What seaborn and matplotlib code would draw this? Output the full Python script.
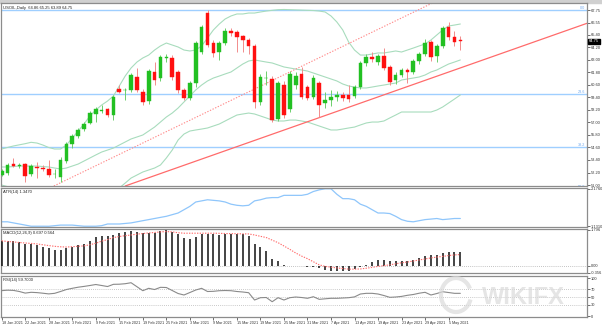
import numpy as np
import pandas as pd
import matplotlib
matplotlib.use("Agg")
import matplotlib.pyplot as plt
import matplotlib.transforms as mtransforms
from matplotlib.patches import Rectangle, Arc
import seaborn as sns

sns.set_theme(style="white")
plt.rcParams["font.family"] = ["Liberation Sans", "DejaVu Sans"]

# ---------------------------------------------------------------- data
symbol = "USOIL,Daily"
dates = pd.bdate_range("2021-01-18", "2021-05-07").drop(pd.Timestamp("2021-04-02"))

open_ = [51.96, 52.15, 53.01, 52.87, 53.01, 52.06, 52.73, 52.63, 52.54, 52.02,
         51.77, 53.30, 54.93, 55.69, 56.36, 56.94, 57.80, 58.10, 58.28, 57.70,
         60.19, 60.05, 60.10, 61.34, 59.90, 59.04, 61.82, 61.24, 63.20, 63.16,
         61.82, 60.10, 59.33, 60.76, 63.73, 67.46, 64.59, 63.73, 64.59, 65.74,
         65.64, 65.26, 64.88, 64.31, 58.95, 61.20, 61.15, 57.32, 60.57, 58.28,
         60.57, 61.63, 60.38, 59.42, 60.76, 58.85, 59.14, 59.42, 59.62, 59.62,
         59.52, 60.38, 62.68, 63.25, 62.77, 63.35, 62.30, 61.05, 61.53, 62.01,
         61.82, 62.87, 63.54, 64.69, 63.35, 64.31, 66.12, 65.17, 64.86]
high = [52.55, 53.10, 53.59, 53.10, 53.15, 53.00, 53.20, 52.90, 53.40, 52.50,
        53.70, 55.10, 55.90, 56.45, 57.00, 58.10, 58.50, 58.70, 58.40, 59.60,
        60.57, 60.30, 61.70, 62.20, 60.20, 62.10, 62.77, 63.40, 63.54, 63.40,
        62.00, 60.30, 61.00, 64.80, 66.30, 67.75, 64.90, 64.80, 66.00, 66.03,
        65.80, 65.40, 65.10, 64.50, 61.60, 61.90, 61.40, 61.00, 61.00, 61.90,
        61.80, 62.30, 60.60, 61.50, 61.00, 59.90, 60.10, 60.00, 59.90, 60.57,
        60.60, 62.90, 63.50, 63.73, 63.55, 64.11, 62.50, 61.80, 62.20, 62.20,
        63.10, 63.70, 65.00, 64.90, 64.50, 66.20, 66.60, 65.70, 65.25]
low = [51.85, 52.00, 52.70, 52.65, 51.29, 51.90, 51.67, 52.30, 51.80, 51.70,
       51.29, 53.10, 54.55, 55.50, 56.20, 56.80, 57.03, 57.90, 57.55, 57.22,
       59.80, 59.14, 59.90, 59.90, 58.70, 58.80, 60.57, 61.00, 62.77, 61.10,
       59.80, 59.14, 59.10, 60.40, 63.50, 64.20, 63.30, 62.97, 64.40, 65.30,
       63.73, 63.70, 63.54, 58.37, 58.70, 60.60, 57.00, 57.10, 57.40, 58.00,
       60.20, 59.20, 59.10, 59.20, 57.51, 58.40, 58.60, 59.00, 59.00, 58.90,
       59.30, 60.20, 62.40, 62.80, 62.50, 62.00, 60.60, 60.70, 61.30, 60.76,
       61.60, 62.60, 63.35, 62.87, 62.77, 64.10, 64.90, 64.30, 63.89]
close = [52.34, 52.92, 52.82, 52.92, 51.86, 52.82, 52.63, 52.54, 51.96, 52.06,
         53.40, 54.93, 55.69, 56.27, 56.84, 57.90, 58.28, 58.14, 57.70, 59.42,
         59.90, 60.10, 61.53, 60.10, 58.95, 61.91, 61.05, 63.25, 63.30, 61.34,
         60.10, 59.33, 60.76, 64.59, 66.12, 64.40, 63.64, 64.59, 65.74, 65.55,
         65.17, 64.88, 64.31, 58.95, 61.34, 61.25, 57.22, 60.76, 57.70, 61.63,
         61.43, 59.42, 59.33, 61.24, 58.66, 59.14, 59.42, 59.62, 59.33, 59.23,
         60.38, 62.68, 63.25, 63.06, 63.35, 62.20, 60.86, 61.53, 62.01, 61.82,
         62.87, 63.54, 64.59, 63.25, 64.31, 66.03, 65.17, 64.69, 64.75]

bb_upper = [54.45, 54.60, 54.74, 54.85, 54.96, 55.09, 55.02, 54.83, 54.59, 54.45,
            54.45, 54.83, 55.50, 56.17, 56.84, 57.61, 58.18, 58.66, 59.04, 59.52,
            60.48, 61.43, 62.20, 62.77, 63.16, 63.44, 63.92, 64.31, 64.59, 64.40,
            64.21, 63.92, 63.83, 63.92, 64.31, 65.07, 65.84, 66.41, 66.89, 67.18,
            67.37, 67.37, 67.46, 67.46, 67.56, 67.65, 67.72, 67.78, 67.80, 67.78,
            67.76, 67.74, 67.72, 67.70, 67.65, 67.56, 67.18, 66.60, 65.84, 64.69,
            63.92, 63.44, 63.44, 63.54, 63.64, 63.64, 63.73, 63.83, 63.73, 63.92,
            64.11, 64.31, 64.50, 64.88, 65.36, 65.84, 66.22, 66.31, 66.41]
bb_mid = [52.73, 52.73, 52.77, 52.82, 52.82, 52.82, 52.82, 52.77, 52.73, 52.63,
          52.54, 52.63, 52.82, 53.01, 53.30, 53.59, 53.88, 54.16, 54.35, 54.54,
          54.83, 55.12, 55.41, 55.60, 55.79, 56.17, 56.55, 57.03, 57.51, 57.89,
          58.37, 58.95, 59.52, 60.10, 60.57, 60.96, 61.24, 61.43, 61.63, 61.82,
          62.20, 62.58, 62.87, 62.97, 62.87, 62.77, 62.68, 62.49, 62.30, 62.20,
          62.10, 62.01, 61.91, 61.72, 61.53, 61.34, 61.15, 60.96, 60.67, 60.48,
          60.38, 60.29, 60.29, 60.38, 60.48, 60.57, 60.67, 60.76, 61.05, 61.15,
          61.24, 61.34, 61.53, 61.82, 62.01, 62.30, 62.58, 62.77, 62.97]
bb_lower = [51.00, 50.85, 50.80, 50.80, 50.70, 50.55, 50.60, 50.70, 50.85, 50.80,
            50.60, 50.40, 50.10, 49.85, 49.75, 49.60, 49.60, 49.65, 49.70, 50.24,
            50.72, 51.19, 51.67, 51.96, 52.25, 52.44, 52.63, 52.92, 53.59, 54.35,
            55.31, 55.88, 56.17, 56.27, 56.36, 56.46, 56.65, 56.84, 57.13, 57.42,
            57.70, 57.80, 57.89, 57.80, 57.61, 57.42, 57.22, 57.13, 57.13, 57.22,
            57.22, 57.13, 57.03, 56.84, 56.65, 56.46, 56.27, 56.27, 56.36, 56.46,
            56.55, 56.75, 56.94, 57.03, 57.03, 57.13, 57.42, 57.70, 57.99, 57.99,
            57.99, 57.99, 57.99, 57.99, 58.18, 58.47, 58.85, 59.23, 59.62]

atr = [1.255, 1.255, 1.224, 1.194, 1.163, 1.132, 1.132, 1.132, 1.131, 1.147,
       1.163, 1.163, 1.163, 1.147, 1.132, 1.132, 1.132, 1.147, 1.194, 1.194,
       1.194, 1.209, 1.224, 1.255, 1.286, 1.316, 1.347, 1.378, 1.408, 1.454,
       1.500, 1.592, 1.685, 1.807, 1.838, 1.869, 1.853, 1.838, 1.807, 1.746,
       1.715, 1.700, 1.715, 1.838, 1.869, 1.915, 1.930, 1.930, 1.992, 1.992,
       1.992, 1.992, 2.022, 2.099, 2.145, 2.176, 2.176, 2.022, 1.900, 1.900,
       1.869, 1.746, 1.685, 1.592, 1.500, 1.500, 1.485, 1.408, 1.316, 1.270,
       1.255, 1.286, 1.316, 1.331, 1.347, 1.316, 1.331, 1.347, 1.347]

macd = [1.246, 1.246, 1.215, 1.164, 1.113, 1.077, 1.026, 0.938, 0.872, 0.785,
        0.785, 0.872, 0.938, 1.026, 1.113, 1.246, 1.421, 1.472, 1.472, 1.538,
        1.626, 1.677, 1.744, 1.708, 1.626, 1.641, 1.641, 1.759, 1.796, 1.708,
        1.590, 1.369, 1.333, 1.421, 1.590, 1.590, 1.590, 1.538, 1.590, 1.590,
        1.590, 1.590, 1.472, 1.077, 0.959, 0.733, 0.344, 0.221, 0.051, 0.015,
        0.015, -0.010, -0.035, -0.067, -0.118, -0.205, -0.241, -0.256, -0.256, -0.241,
        -0.170, -0.035, 0.050, 0.170, 0.270, 0.270, 0.220, 0.220, 0.220, 0.256,
        0.310, 0.390, 0.477, 0.530, 0.564, 0.646, 0.677, 0.697, 0.697]
macd_signal = [1.246, 1.215, 1.190, 1.164, 1.138, 1.118, 1.092, 1.051, 1.010, 0.974,
               0.949, 0.938, 0.954, 0.974, 0.995, 1.051, 1.128, 1.231, 1.308, 1.410,
               1.462, 1.503, 1.538, 1.579, 1.610, 1.641, 1.662, 1.692, 1.708, 1.692,
               1.651, 1.626, 1.626, 1.626, 1.626, 1.626, 1.626, 1.621, 1.610, 1.605,
               1.600, 1.595, 1.590, 1.538, 1.472, 1.410, 1.282, 1.154, 0.990, 0.821,
               0.641, 0.487, 0.359, 0.205, 0.051, -0.026, -0.067, -0.103, -0.133, -0.164,
               -0.164, -0.154, -0.118, -0.077, -0.026, 0.010, 0.051, 0.103, 0.154, 0.190,
               0.241, 0.292, 0.344, 0.395, 0.436, 0.472, 0.513, 0.544, 0.564]

rsi = [66.8, 67.9, 67.4, 64.5, 60.3, 62.4, 61.6, 60.0, 58.2, 59.7,
       64.5, 69.7, 72.9, 75.8, 77.9, 80.3, 82.9, 80.3, 77.6, 83.4,
       83.7, 85.0, 87.6, 77.1, 66.6, 72.9, 69.7, 75.5, 75.0, 67.1,
       59.2, 55.3, 61.8, 68.4, 72.9, 64.5, 65.0, 66.6, 67.1, 66.6,
       64.5, 63.2, 61.3, 42.1, 48.2, 48.7, 37.6, 48.2, 42.1, 48.2,
       50.0, 48.7, 46.6, 50.8, 43.9, 45.3, 46.6, 46.6, 47.4, 48.2,
       50.3, 57.9, 59.7, 59.7, 57.9, 53.9, 49.2, 50.0, 51.6, 54.5,
       56.6, 60.0, 62.4, 55.3, 59.2, 63.9, 61.8, 59.7, 59.7]

price_ticks = ["67.75", "66.55", "65.40", "64.20", "63.00", "61.80", "60.60", "59.40",
               "58.20", "57.00", "55.80", "54.60", "53.40", "52.20", "51.00"]
fib_high, fib_low = 67.75, 33.55
fib_levels = [0.0, 23.6, 38.2, 50.0]
support_line = [(20.5, 50.81), (99.2, 66.41)]
channel_line = [(9.9, 51.19), (70.8, 67.75)]
rsi_levels = [70, 50, 30]
rsi_ticks = [100, 70, 50, 30, 0]

# ---------------------------------------------------------------- layout
W, H = 602, 326
fig = plt.figure(figsize=(W / 100, H / 100), dpi=100, facecolor="white")


def panel(top, bottom):
    return fig.add_axes([1 / W, 1 - bottom / H, 586 / W, (bottom - top) / H])


ax = panel(3, 186)
ax_atr = panel(188, 227)
ax_macd = panel(229, 273)
ax_rsi = panel(276, 317)

n = len(close)
idx = np.arange(n)
XMIN, XMAX = -0.12, 99.54
FS = 2.9
for a in (ax, ax_atr, ax_macd, ax_rsi):
    a.set_xlim(XMIN, XMAX)
    a.set_facecolor("white")
    a.grid(False)
    for s in a.spines.values():
        s.set_color("#8c8c8c")
        s.set_linewidth(0.9)
    a.yaxis.tick_right()
    a.tick_params(axis="y", right=True, left=False, length=2, width=0.5, pad=0.8,
                  labelsize=FS, colors="#333333", direction="out")
    a.tick_params(axis="x", bottom=False, labelbottom=False)

fig.add_artist(Rectangle((0, 1 - 2.5 / H), 1, 2.5 / H, transform=fig.transFigure,
                         color="#d0d0d0", zorder=0))

# ---------------------------------------------------------------- price panel
o, hi, lo, c = map(np.array, (open_, high, low, close))
up = c >= o
body_col = np.where(up, "#22c022", "#ff1010")
wick_col = np.where(up, "#6ccf6c", "#f28c8c")

for lv in fib_levels:
    level_price = fib_high - (fib_high - fib_low) * lv / 100
    ax.axhline(level_price, color="#9fcfff", lw=1.0, zorder=1)
    ax.text(XMAX - 0.3, level_price, f"{lv:.1f}", ha="right", va="bottom",
            fontsize=2.7, color="#6fa8ee", clip_on=True, zorder=1)

for band in (bb_upper, bb_mid, bb_lower):
    sns.lineplot(x=idx, y=band, ax=ax, color="#a8dcbd", linewidth=0.8, zorder=2)

ax.axline(support_line[0], support_line[1], color="#ff6b6b", lw=0.9, zorder=2)
ax.axline(channel_line[0], channel_line[1], color="#ff8a8a", lw=0.8,
          ls=(0, (1.2, 1.4)), zorder=2)

ax.vlines(idx, lo, hi, colors=wick_col, linewidth=0.7, zorder=3)
ax.bar(idx, np.maximum(np.abs(c - o), 0.06), bottom=np.minimum(o, c), width=0.62,
       color=body_col, edgecolor=body_col, linewidth=0.3, zorder=4)

ax.set_ylim(50.91, 68.42)
ax.set_yticks([float(t) for t in price_ticks])
ax.set_yticklabels(price_ticks)
ax.set_xlabel("")
ax.set_ylabel("")

trans = mtransforms.blended_transform_factory(ax.transAxes, ax.transData)
ax.text(1.003, c[-1], f"{c[-1]:.2f}", transform=trans, fontsize=FS, color="white",
        va="center", ha="left", clip_on=False, zorder=10,
        bbox=dict(boxstyle="square,pad=0.2", fc="black", ec="black"))
ax.text(0.004, 0.985, f"{symbol}  {o[-1]:.2f} {hi[-1]:.2f} {lo[-1]:.2f} {c[-1]:.2f}",
        transform=ax.transAxes, va="top", ha="left", fontsize=3.0, color="#222222")

# ---------------------------------------------------------------- ATR
atr_a = np.array(atr)
sns.lineplot(x=idx, y=atr_a, ax=ax_atr, color="#8fc6fb", linewidth=0.9)
span = atr_a.max() - atr_a.min()
ax_atr.set_ylim(atr_a.min() - 0.02 * span, atr_a.max() + 0.02 * span)
ax_atr.set_yticks([atr_a.max(), atr_a.min()])
ax_atr.set_yticklabels([f"{atr_a.max():.4f}", f"{atr_a.min():.4f}"])
ax_atr.text(0.004, 0.96, f"ATR(14) {atr_a[-1]:.4f}", transform=ax_atr.transAxes,
            va="top", ha="left", fontsize=3.0, color="#222222")
ax_atr.set_xlabel("")
ax_atr.set_ylabel("")

# ---------------------------------------------------------------- MACD
m = np.array(macd)
sg = np.array(macd_signal)
ax_macd.vlines(idx, 0, m, colors="#111111", linewidth=1.1, zorder=3)
sns.lineplot(x=idx, y=sg, ax=ax_macd, color="#ff6a6a", linewidth=0.8,
             linestyle=(0, (1.2, 1.2)), zorder=4)
ax_macd.axhline(0, color="#b0b0b0", lw=0.6, ls=(0, (1, 1.5)), zorder=1)
mtop, mbot = max(m.max(), sg.max()), min(m.min(), sg.min()) - 0.1
ax_macd.set_ylim(mbot, mtop + 0.04)
ax_macd.set_yticks([mtop, 0, mbot])
ax_macd.set_yticklabels([f"{mtop:.3f}", "0.00", f"{mbot:.3f}"])
ax_macd.text(0.004, 0.96, f"MACD(12,26,9) {m[-1]:.3f} {sg[-1]:.3f}",
             transform=ax_macd.transAxes, va="top", ha="left", fontsize=3.0, color="#222222")
ax_macd.set_xlabel("")
ax_macd.set_ylabel("")

# ---------------------------------------------------------------- RSI
for lv in rsi_levels:
    ax_rsi.axhline(lv, color="#b8b8b8", lw=0.6, ls=(0, (1, 1.5)), zorder=1)
sns.lineplot(x=idx, y=rsi, ax=ax_rsi, color="#8a8a8a", linewidth=0.8, zorder=3)
ax_rsi.set_ylim(-2.6, 105.3)
ax_rsi.set_yticks(rsi_ticks)
ax_rsi.set_yticklabels([str(t) for t in rsi_ticks])
ax_rsi.text(0.004, 0.96, f"RSI(14) {rsi[-1]:.4f}", transform=ax_rsi.transAxes,
            va="top", ha="left", fontsize=3.0, color="#222222")
ax_rsi.set_xlabel("")
ax_rsi.set_ylabel("")

tick_pos = idx[::4]
ax_rsi.set_xticks(tick_pos)
ax_rsi.set_xticklabels([f"{d.day} {d:%b %Y}" for d in dates[::4]])
ax_rsi.tick_params(axis="x", bottom=True, labelbottom=True, length=2, width=0.5,
                   pad=1, labelsize=2.7, colors="#333333", direction="out")
for lbl in ax_rsi.get_xticklabels():
    lbl.set_ha("left")

# ---------------------------------------------------------------- watermark
fig.text(523 / W, 1 - 297 / H, "WIKIFX", fontsize=17, fontweight="bold",
         color="#dadada", alpha=0.7, ha="center", va="center", zorder=20)
fig.add_artist(Arc((456 / W, 1 - 295 / H), 30 / W, 34 / H, theta1=40, theta2=330,
                   transform=fig.transFigure, color="#dadada", lw=3, alpha=0.7,
                   zorder=20))

fig.savefig("out.png", dpi=100, facecolor="white")
